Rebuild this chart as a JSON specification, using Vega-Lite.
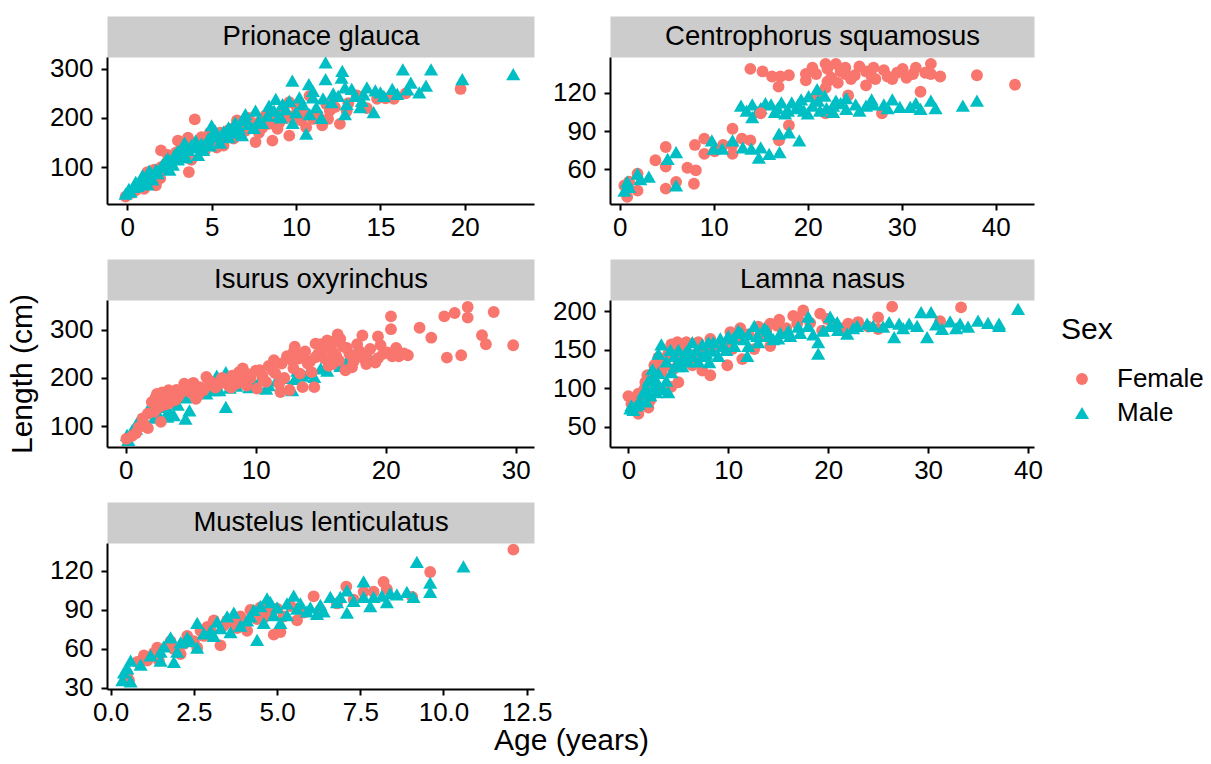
{
 "$schema": "https://vega.github.io/schema/vega-lite/v6.json",
 "padding": {"left": 7, "top": 22, "right": 5, "bottom": 5},
 "background": "white",
 "config": {
  "font": "Liberation Sans",
  "view": {"stroke": null},
  "axis": {"grid": false, "domainColor": "black", "domainWidth": 2, "tickColor": "black", "tickWidth": 2, "tickSize": 6, "labelFontSize": 26, "labelColor": "black", "labelFlush": false, "labelOverlap": false, "titleFontSize": 30, "titleFontWeight": "normal", "titleColor": "black"},
  "axisX": {"labelPadding": 4},
  "axisY": {"labelPadding": 8},
  "legend": {"titleFontSize": 30, "titleFontWeight": "normal", "titleColor": "black", "labelFontSize": 26, "labelColor": "black", "symbolSize": 170, "symbolStrokeWidth": 0, "rowPadding": 8, "titlePadding": 21, "labelOffset": 22, "symbolOffset": 8}
 },
 "datasets": {
  "prionace": [
   {"Sex":"Female","Age":4.0,"Length":197},{"Sex":"Female","Age":19.75,"Length":259},{"Sex":"Female","Age":15.8,"Length":239},{"Sex":"Female","Age":14.8,"Length":239},{"Sex":"Female","Age":12.6,"Length":188},{"Sex":"Female","Age":11.55,"Length":185},{"Sex":"Female","Age":11.9,"Length":198},{"Sex":"Female","Age":11.0,"Length":198},{"Sex":"Female","Age":10.8,"Length":245},{"Sex":"Female","Age":10.6,"Length":181},{"Sex":"Female","Age":9.6,"Length":164},{"Sex":"Female","Age":9.6,"Length":232},{"Sex":"Female","Age":8.6,"Length":154},{"Sex":"Female","Age":8.2,"Length":205},{"Sex":"Female","Age":7.6,"Length":151},{"Sex":"Female","Age":7.8,"Length":191},{"Sex":"Female","Age":7.0,"Length":174},{"Sex":"Female","Age":6.3,"Length":158},{"Sex":"Female","Age":5.7,"Length":144},{"Sex":"Female","Age":5.0,"Length":151},{"Sex":"Female","Age":4.4,"Length":161},{"Sex":"Female","Age":4.6,"Length":134},{"Sex":"Female","Age":3.65,"Length":90},{"Sex":"Female","Age":3.0,"Length":154},{"Sex":"Female","Age":2.8,"Length":121},{"Sex":"Female","Age":2.0,"Length":134},{"Sex":"Female","Age":1.95,"Length":77},{"Sex":"Female","Age":1.2,"Length":90},{"Sex":"Female","Age":1.1,"Length":70},{"Sex":"Female","Age":1.0,"Length":56},{"Sex":"Female","Age":1.7,"Length":63},{"Sex":"Female","Age":-0.1,"Length":40},{"Sex":"Female","Age":0.5,"Length":53},{"Sex":"Female","Age":2.5,"Length":110},{"Sex":"Female","Age":3.3,"Length":125},{"Sex":"Female","Age":4.2,"Length":140},{"Sex":"Female","Age":5.2,"Length":160},{"Sex":"Female","Age":6.0,"Length":175},{"Sex":"Female","Age":6.8,"Length":185},{"Sex":"Female","Age":8.8,"Length":200},{"Sex":"Female","Age":9.2,"Length":215},{"Sex":"Female","Age":10.0,"Length":225},{"Sex":"Female","Age":12.0,"Length":215},{"Sex":"Female","Age":13.1,"Length":230},{"Sex":"Female","Age":14.2,"Length":220},{"Sex":"Female","Age":7.2,"Length":200},{"Sex":"Female","Age":5.5,"Length":170},{"Sex":"Female","Age":3.8,"Length":115},{"Sex":"Female","Age":2.2,"Length":97},{"Sex":"Female","Age":1.5,"Length":82},{"Sex":"Female","Age":0.8,"Length":65},{"Sex":"Female","Age":8.0,"Length":180},{"Sex":"Female","Age":9.0,"Length":190},
   {"Sex":"Female","Age":0.3,"Length":48},{"Sex":"Female","Age":0.6,"Length":58},{"Sex":"Female","Age":1.0,"Length":75},{"Sex":"Female","Age":1.3,"Length":85},{"Sex":"Female","Age":1.6,"Length":95},{"Sex":"Female","Age":2.0,"Length":100},{"Sex":"Female","Age":2.3,"Length":108},{"Sex":"Female","Age":2.6,"Length":118},{"Sex":"Female","Age":2.9,"Length":130},{"Sex":"Female","Age":3.2,"Length":138},{"Sex":"Female","Age":3.5,"Length":132},{"Sex":"Female","Age":3.9,"Length":150},{"Sex":"Female","Age":4.3,"Length":147},{"Sex":"Female","Age":4.8,"Length":155},{"Sex":"Female","Age":5.3,"Length":140},{"Sex":"Female","Age":5.8,"Length":163},{"Sex":"Female","Age":6.2,"Length":178},{"Sex":"Female","Age":6.6,"Length":168},{"Sex":"Female","Age":7.3,"Length":183},{"Sex":"Female","Age":7.8,"Length":170},{"Sex":"Female","Age":8.4,"Length":188},{"Sex":"Female","Age":8.9,"Length":178},{"Sex":"Female","Age":9.4,"Length":200},{"Sex":"Female","Age":9.9,"Length":205},{"Sex":"Female","Age":10.4,"Length":210},{"Sex":"Female","Age":11.3,"Length":205},{"Sex":"Female","Age":12.3,"Length":222},{"Sex":"Female","Age":13.0,"Length":214},{"Sex":"Female","Age":3.6,"Length":160},{"Sex":"Female","Age":2.4,"Length":125},{"Sex":"Female","Age":4.9,"Length":170},{"Sex":"Female","Age":6.5,"Length":195},{"Sex":"Female","Age":8.5,"Length":210},{"Sex":"Female","Age":10.3,"Length":195},{"Sex":"Female","Age":11.8,"Length":228},{"Sex":"Female","Age":13.6,"Length":246},{"Sex":"Female","Age":15.3,"Length":240},{"Sex":"Female","Age":16.5,"Length":250},
   {"Sex":"Male","Age":-0.1,"Length":46},{"Sex":"Male","Age":0.1,"Length":56},{"Sex":"Male","Age":0.5,"Length":70},{"Sex":"Male","Age":0.9,"Length":83},{"Sex":"Male","Age":1.3,"Length":93},{"Sex":"Male","Age":2.0,"Length":100},{"Sex":"Male","Age":2.3,"Length":114},{"Sex":"Male","Age":3.0,"Length":116},{"Sex":"Male","Age":3.0,"Length":133},{"Sex":"Male","Age":3.46,"Length":141},{"Sex":"Male","Age":4.05,"Length":154},{"Sex":"Male","Age":4.9,"Length":144},{"Sex":"Male","Age":5.0,"Length":164},{"Sex":"Male","Age":5.0,"Length":185},{"Sex":"Male","Age":6.0,"Length":161},{"Sex":"Male","Age":6.0,"Length":181},{"Sex":"Male","Age":6.4,"Length":191},{"Sex":"Male","Age":7.0,"Length":196},{"Sex":"Male","Age":7.0,"Length":208},{"Sex":"Male","Age":7.6,"Length":215},{"Sex":"Male","Age":8.4,"Length":225},{"Sex":"Male","Age":9.1,"Length":201},{"Sex":"Male","Age":8.8,"Length":239},{"Sex":"Male","Age":9.4,"Length":218},{"Sex":"Male","Age":10.6,"Length":168},{"Sex":"Male","Age":10.0,"Length":212},{"Sex":"Male","Age":10.2,"Length":242},{"Sex":"Male","Age":11.0,"Length":242},{"Sex":"Male","Age":11.2,"Length":222},{"Sex":"Male","Age":12.1,"Length":232},{"Sex":"Male","Age":12.9,"Length":208},{"Sex":"Male","Age":13.0,"Length":228},{"Sex":"Male","Age":13.3,"Length":259},{"Sex":"Male","Age":13.9,"Length":235},{"Sex":"Male","Age":14.6,"Length":212},{"Sex":"Male","Age":14.7,"Length":256},{"Sex":"Male","Age":16.0,"Length":249},{"Sex":"Male","Age":15.7,"Length":259},{"Sex":"Male","Age":22.87,"Length":289},{"Sex":"Male","Age":19.85,"Length":279},{"Sex":"Male","Age":17.7,"Length":266},{"Sex":"Male","Age":16.8,"Length":272},{"Sex":"Male","Age":18.0,"Length":299},{"Sex":"Male","Age":16.33,"Length":299},{"Sex":"Male","Age":11.75,"Length":279},{"Sex":"Male","Age":10.76,"Length":269},{"Sex":"Male","Age":9.78,"Length":276},{"Sex":"Male","Age":12.7,"Length":282},{"Sex":"Male","Age":12.74,"Length":296},{"Sex":"Male","Age":11.75,"Length":313},{"Sex":"Male","Age":1.5,"Length":75},{"Sex":"Male","Age":2.5,"Length":95},{"Sex":"Male","Age":3.5,"Length":120},{"Sex":"Male","Age":4.5,"Length":135},{"Sex":"Male","Age":5.5,"Length":150},{"Sex":"Male","Age":6.5,"Length":170},{"Sex":"Male","Age":8.0,"Length":190},{"Sex":"Male","Age":9.0,"Length":205},{"Sex":"Male","Age":7.5,"Length":180},{"Sex":"Male","Age":11.5,"Length":200},{"Sex":"Male","Age":12.5,"Length":245},{"Sex":"Male","Age":14.0,"Length":248},{"Sex":"Male","Age":15.2,"Length":245},{"Sex":"Male","Age":2.7,"Length":105},{"Sex":"Male","Age":4.2,"Length":125},{"Sex":"Male","Age":0.6,"Length":62},{"Sex":"Male","Age":1.8,"Length":88},{"Sex":"Male","Age":3.8,"Length":145},{"Sex":"Male","Age":5.7,"Length":172},{"Sex":"Male","Age":6.8,"Length":165},
   {"Sex":"Male","Age":0.2,"Length":50},{"Sex":"Male","Age":0.4,"Length":60},{"Sex":"Male","Age":0.8,"Length":70},{"Sex":"Male","Age":1.1,"Length":80},{"Sex":"Male","Age":1.4,"Length":88},{"Sex":"Male","Age":1.7,"Length":95},{"Sex":"Male","Age":2.1,"Length":105},{"Sex":"Male","Age":2.4,"Length":118},{"Sex":"Male","Age":2.8,"Length":125},{"Sex":"Male","Age":3.2,"Length":128},{"Sex":"Male","Age":3.6,"Length":135},{"Sex":"Male","Age":4.0,"Length":140},{"Sex":"Male","Age":4.4,"Length":148},{"Sex":"Male","Age":4.8,"Length":158},{"Sex":"Male","Age":5.3,"Length":162},{"Sex":"Male","Age":5.8,"Length":168},{"Sex":"Male","Age":6.2,"Length":175},{"Sex":"Male","Age":6.6,"Length":182},{"Sex":"Male","Age":7.2,"Length":188},{"Sex":"Male","Age":7.8,"Length":195},{"Sex":"Male","Age":8.3,"Length":205},{"Sex":"Male","Age":8.7,"Length":215},{"Sex":"Male","Age":9.2,"Length":228},{"Sex":"Male","Age":9.6,"Length":235},{"Sex":"Male","Age":10.4,"Length":228},{"Sex":"Male","Age":11.0,"Length":255},{"Sex":"Male","Age":11.6,"Length":240},{"Sex":"Male","Age":12.2,"Length":250},{"Sex":"Male","Age":12.9,"Length":262},{"Sex":"Male","Age":13.5,"Length":245},{"Sex":"Male","Age":14.2,"Length":262},{"Sex":"Male","Age":15.0,"Length":252},{"Sex":"Male","Age":10.8,"Length":208},{"Sex":"Male","Age":9.8,"Length":190},{"Sex":"Male","Age":6.9,"Length":200},{"Sex":"Male","Age":5.2,"Length":175},{"Sex":"Male","Age":3.4,"Length":150},{"Sex":"Male","Age":2.6,"Length":110},{"Sex":"Male","Age":1.2,"Length":65},{"Sex":"Male","Age":16.6,"Length":258},{"Sex":"Male","Age":17.3,"Length":252},{"Sex":"Male","Age":13.8,"Length":222}
  ],
  "centrophorus": [
   {"Sex":"Female","Age":13.9,"Length":139},{"Sex":"Female","Age":15.2,"Length":137},{"Sex":"Female","Age":16.2,"Length":133},{"Sex":"Female","Age":17.1,"Length":133},{"Sex":"Female","Age":18.0,"Length":134},{"Sex":"Female","Age":16.9,"Length":125},{"Sex":"Female","Age":19.8,"Length":135},{"Sex":"Female","Age":19.8,"Length":130},{"Sex":"Female","Age":20.9,"Length":135},{"Sex":"Female","Age":21.9,"Length":143},{"Sex":"Female","Age":22.1,"Length":139},{"Sex":"Female","Age":23.0,"Length":143},{"Sex":"Female","Age":24.0,"Length":140},{"Sex":"Female","Age":24.0,"Length":135},{"Sex":"Female","Age":24.6,"Length":131},{"Sex":"Female","Age":22.1,"Length":129},{"Sex":"Female","Age":21.9,"Length":124},{"Sex":"Female","Age":26.2,"Length":137},{"Sex":"Female","Age":26.2,"Length":126},{"Sex":"Female","Age":27.2,"Length":131},{"Sex":"Female","Age":28.1,"Length":138},{"Sex":"Female","Age":29.0,"Length":131},{"Sex":"Female","Age":30.1,"Length":139},{"Sex":"Female","Age":31.2,"Length":135},{"Sex":"Female","Age":32.0,"Length":121},{"Sex":"Female","Age":33.1,"Length":143},{"Sex":"Female","Age":33.1,"Length":135},{"Sex":"Female","Age":34.1,"Length":133},{"Sex":"Female","Age":38.0,"Length":134},{"Sex":"Female","Age":42.05,"Length":126.5},{"Sex":"Female","Age":27.9,"Length":104},{"Sex":"Female","Age":21.9,"Length":104},{"Sex":"Female","Age":21.0,"Length":117},{"Sex":"Female","Age":24.3,"Length":118},{"Sex":"Female","Age":20.5,"Length":140},{"Sex":"Female","Age":22.5,"Length":132},{"Sex":"Female","Age":23.5,"Length":137},{"Sex":"Female","Age":25.0,"Length":134},{"Sex":"Female","Age":25.5,"Length":141},{"Sex":"Female","Age":27.0,"Length":140},{"Sex":"Female","Age":28.5,"Length":133},{"Sex":"Female","Age":30.5,"Length":132},{"Sex":"Female","Age":31.5,"Length":140},{"Sex":"Female","Age":32.5,"Length":136},{"Sex":"Female","Age":23.2,"Length":128},{"Sex":"Female","Age":26.8,"Length":133},{"Sex":"Female","Age":29.5,"Length":136},
   {"Sex":"Male","Age":12.9,"Length":110},{"Sex":"Male","Age":14.1,"Length":111},{"Sex":"Male","Age":14.1,"Length":101},{"Sex":"Male","Age":16.1,"Length":111},{"Sex":"Male","Age":17.2,"Length":112.6},{"Sex":"Male","Age":18.3,"Length":112.6},{"Sex":"Male","Age":19.3,"Length":115},{"Sex":"Male","Age":20.1,"Length":117.6},{"Sex":"Male","Age":21.0,"Length":123},{"Sex":"Male","Age":21.1,"Length":114},{"Sex":"Male","Age":21.3,"Length":106},{"Sex":"Male","Age":22.7,"Length":110},{"Sex":"Male","Age":24.1,"Length":116},{"Sex":"Male","Age":25.1,"Length":111},{"Sex":"Male","Age":26.2,"Length":110},{"Sex":"Male","Age":27.0,"Length":111},{"Sex":"Male","Age":28.1,"Length":111},{"Sex":"Male","Age":29.0,"Length":115},{"Sex":"Male","Age":30.9,"Length":109},{"Sex":"Male","Age":32.0,"Length":107.5},{"Sex":"Male","Age":33.1,"Length":114},{"Sex":"Male","Age":38.0,"Length":114},{"Sex":"Male","Age":16.5,"Length":105},{"Sex":"Male","Age":17.9,"Length":106},{"Sex":"Male","Age":19.6,"Length":106},{"Sex":"Male","Age":22.7,"Length":105},{"Sex":"Male","Age":24.1,"Length":107.5},{"Sex":"Male","Age":15.0,"Length":108},{"Sex":"Male","Age":18.8,"Length":108},{"Sex":"Male","Age":20.5,"Length":110},{"Sex":"Male","Age":23.5,"Length":112},{"Sex":"Male","Age":21.8,"Length":118},{"Sex":"Male","Age":15.5,"Length":112},{"Sex":"Male","Age":20.0,"Length":104},{"Sex":"Male","Age":13.5,"Length":106},{"Sex":"Male","Age":14.6,"Length":105},{"Sex":"Male","Age":16.8,"Length":108},{"Sex":"Male","Age":17.6,"Length":104},{"Sex":"Male","Age":19.0,"Length":111},{"Sex":"Male","Age":22.0,"Length":108},{"Sex":"Male","Age":23.0,"Length":114},{"Sex":"Male","Age":25.5,"Length":106},{"Sex":"Male","Age":26.8,"Length":115},{"Sex":"Male","Age":28.5,"Length":108},{"Sex":"Male","Age":29.8,"Length":109},{"Sex":"Male","Age":31.5,"Length":112},{"Sex":"Male","Age":33.6,"Length":108},{"Sex":"Male","Age":36.5,"Length":110},
   {"Sex":"Female","Age":15.0,"Length":104},{"Sex":"Female","Age":18.0,"Length":94.5},{"Sex":"Female","Age":16.95,"Length":82.6},{"Sex":"Female","Age":13.9,"Length":82.6},{"Sex":"Female","Age":12.0,"Length":91.8},{"Sex":"Female","Age":12.0,"Length":72},{"Sex":"Female","Age":12.0,"Length":79},{"Sex":"Female","Age":13.0,"Length":84},{"Sex":"Female","Age":11.0,"Length":79},{"Sex":"Female","Age":10.1,"Length":74},{"Sex":"Female","Age":9.0,"Length":84},{"Sex":"Female","Age":8.0,"Length":79},{"Sex":"Female","Age":9.0,"Length":72},{"Sex":"Female","Age":8.1,"Length":59},{"Sex":"Female","Age":7.9,"Length":48.4},{"Sex":"Female","Age":7.2,"Length":61},{"Sex":"Female","Age":6.0,"Length":49.8},{"Sex":"Female","Age":4.9,"Length":77.4},{"Sex":"Female","Age":4.9,"Length":62},{"Sex":"Female","Age":4.9,"Length":44.5},{"Sex":"Female","Age":3.8,"Length":66.9},{"Sex":"Female","Age":1.9,"Length":56.3},{"Sex":"Female","Age":1.9,"Length":43},{"Sex":"Female","Age":1.0,"Length":50},{"Sex":"Female","Age":0.8,"Length":38},{"Sex":"Female","Age":0.5,"Length":47},
   {"Sex":"Male","Age":16.95,"Length":88},{"Sex":"Male","Age":18.0,"Length":89},{"Sex":"Male","Age":19.1,"Length":82.6},{"Sex":"Male","Age":17.0,"Length":73.4},{"Sex":"Male","Age":15.9,"Length":72},{"Sex":"Male","Age":15.0,"Length":77},{"Sex":"Male","Age":14.8,"Length":69},{"Sex":"Male","Age":14.0,"Length":76},{"Sex":"Male","Age":13.1,"Length":77},{"Sex":"Male","Age":12.0,"Length":82.6},{"Sex":"Male","Age":10.9,"Length":76},{"Sex":"Male","Age":9.8,"Length":82.6},{"Sex":"Male","Age":10.0,"Length":76},{"Sex":"Male","Age":6.0,"Length":73.4},{"Sex":"Male","Age":5.1,"Length":68},{"Sex":"Male","Age":6.0,"Length":47},{"Sex":"Male","Age":3.1,"Length":54},{"Sex":"Male","Age":1.9,"Length":56.3},{"Sex":"Male","Age":1.0,"Length":46},{"Sex":"Male","Age":0.5,"Length":43},{"Sex":"Male","Age":2.2,"Length":52},{"Sex":"Male","Age":0.8,"Length":50}
  ],
  "isurus": [
   {"Sex":"Male","Age":7.7,"Length":212},{"Sex":"Male","Age":7.7,"Length":140},{"Sex":"Male","Age":8.5,"Length":184},{"Sex":"Male","Age":5.4,"Length":178},{"Sex":"Male","Age":4.9,"Length":133},{"Sex":"Male","Age":4.6,"Length":116},{"Sex":"Male","Age":3.7,"Length":123},{"Sex":"Male","Age":3.3,"Length":133},{"Sex":"Male","Age":1.9,"Length":143},{"Sex":"Male","Age":1.0,"Length":113},{"Sex":"Male","Age":0.5,"Length":92},{"Sex":"Male","Age":0.1,"Length":82},{"Sex":"Male","Age":0.2,"Length":72},{"Sex":"Male","Age":10.8,"Length":178},{"Sex":"Male","Age":12.8,"Length":175},{"Sex":"Male","Age":14.5,"Length":202},{"Sex":"Male","Age":17.7,"Length":254},{"Sex":"Male","Age":18.9,"Length":237},{"Sex":"Male","Age":6.2,"Length":168},{"Sex":"Male","Age":9.5,"Length":181},{"Sex":"Male","Age":11.6,"Length":195},{"Sex":"Male","Age":13.6,"Length":205},{"Sex":"Male","Age":2.5,"Length":125},{"Sex":"Male","Age":6.8,"Length":175},{"Sex":"Male","Age":9.0,"Length":195},{"Sex":"Male","Age":15.5,"Length":215},{"Sex":"Male","Age":16.5,"Length":225},
   {"Sex":"Male","Age":0.8,"Length":95},{"Sex":"Male","Age":1.4,"Length":110},{"Sex":"Male","Age":2.2,"Length":118},{"Sex":"Male","Age":2.8,"Length":140},{"Sex":"Male","Age":3.4,"Length":150},{"Sex":"Male","Age":4.0,"Length":145},{"Sex":"Male","Age":4.6,"Length":160},{"Sex":"Male","Age":5.8,"Length":170},{"Sex":"Male","Age":6.4,"Length":182},{"Sex":"Male","Age":7.2,"Length":175},{"Sex":"Male","Age":8.0,"Length":180},{"Sex":"Male","Age":8.8,"Length":192},{"Sex":"Male","Age":9.9,"Length":188},{"Sex":"Male","Age":10.4,"Length":200},{"Sex":"Male","Age":11.0,"Length":185},{"Sex":"Male","Age":12.2,"Length":200},{"Sex":"Male","Age":13.0,"Length":198},{"Sex":"Male","Age":14.0,"Length":210},{"Sex":"Male","Age":15.0,"Length":220},{"Sex":"Male","Age":16.0,"Length":230},{"Sex":"Male","Age":17.0,"Length":235},{"Sex":"Male","Age":13.2,"Length":215},{"Sex":"Male","Age":7.0,"Length":205},{"Sex":"Male","Age":3.2,"Length":120},
   {"Sex":"Female","Age":26.3,"Length":347},{"Sex":"Female","Age":28.3,"Length":336.7},{"Sex":"Female","Age":25.3,"Length":334.6},{"Sex":"Female","Age":24.5,"Length":327.7},{"Sex":"Female","Age":26.3,"Length":325},{"Sex":"Female","Age":20.4,"Length":327.7},{"Sex":"Female","Age":22.6,"Length":304},{"Sex":"Female","Age":23.5,"Length":283.4},{"Sex":"Female","Age":27.4,"Length":288.4},{"Sex":"Female","Age":27.7,"Length":269.8},{"Sex":"Female","Age":29.8,"Length":267.7},{"Sex":"Female","Age":24.7,"Length":242},{"Sex":"Female","Age":25.8,"Length":247},{"Sex":"Female","Age":20.4,"Length":301},{"Sex":"Female","Age":19.4,"Length":286},{"Sex":"Female","Age":18.2,"Length":288},{"Sex":"Female","Age":21.7,"Length":247},{"Sex":"Female","Age":21.0,"Length":245},{"Sex":"Female","Age":20.1,"Length":253},{"Sex":"Female","Age":19.4,"Length":241},{"Sex":"Female","Age":18.5,"Length":247},{"Sex":"Female","Age":16.5,"Length":281},{"Sex":"Female","Age":16.0,"Length":275},{"Sex":"Female","Age":15.5,"Length":278},{"Sex":"Female","Age":14.6,"Length":271},{"Sex":"Female","Age":16.0,"Length":251},{"Sex":"Female","Age":16.4,"Length":236},{"Sex":"Female","Age":16.9,"Length":216},{"Sex":"Female","Age":15.9,"Length":229},{"Sex":"Female","Age":14.6,"Length":243},{"Sex":"Female","Age":13.6,"Length":249},{"Sex":"Female","Age":12.9,"Length":253},{"Sex":"Female","Age":12.8,"Length":236},{"Sex":"Female","Age":11.3,"Length":216},{"Sex":"Female","Age":10.3,"Length":216},{"Sex":"Female","Age":9.3,"Length":209},{"Sex":"Female","Age":8.7,"Length":212},{"Sex":"Female","Age":8.5,"Length":188},{"Sex":"Female","Age":9.3,"Length":184},{"Sex":"Female","Age":11.9,"Length":171},{"Sex":"Female","Age":12.6,"Length":175},{"Sex":"Female","Age":13.6,"Length":181},{"Sex":"Female","Age":14.5,"Length":181},{"Sex":"Female","Age":11.8,"Length":188},{"Sex":"Female","Age":7.2,"Length":188},{"Sex":"Female","Age":6.6,"Length":185},{"Sex":"Female","Age":5.7,"Length":181},{"Sex":"Female","Age":6.2,"Length":202},{"Sex":"Female","Age":4.8,"Length":181},{"Sex":"Female","Age":4.5,"Length":188},{"Sex":"Female","Age":4.2,"Length":168},{"Sex":"Female","Age":3.3,"Length":174.5},{"Sex":"Female","Age":3.3,"Length":147},{"Sex":"Female","Age":2.6,"Length":164},{"Sex":"Female","Age":2.4,"Length":167},{"Sex":"Female","Age":2.6,"Length":140},{"Sex":"Female","Age":2.7,"Length":109},{"Sex":"Female","Age":1.7,"Length":126},{"Sex":"Female","Age":1.3,"Length":116},{"Sex":"Female","Age":1.7,"Length":96},{"Sex":"Female","Age":0.8,"Length":86},{"Sex":"Female","Age":0.05,"Length":74},{"Sex":"Female","Age":3.8,"Length":154},{"Sex":"Female","Age":5.4,"Length":157},{"Sex":"Female","Age":10.1,"Length":178},{"Sex":"Female","Age":10.8,"Length":192},{"Sex":"Female","Age":13.4,"Length":209},{"Sex":"Female","Age":18.5,"Length":229},{"Sex":"Female","Age":19.2,"Length":232},{"Sex":"Female","Age":17.6,"Length":244},{"Sex":"Female","Age":15.2,"Length":262},{"Sex":"Female","Age":17.0,"Length":262},{"Sex":"Female","Age":14.0,"Length":230},{"Sex":"Female","Age":17.8,"Length":270},{"Sex":"Female","Age":7.8,"Length":196},{"Sex":"Female","Age":3.0,"Length":160},
   {"Sex":"Female","Age":2.0,"Length":150},{"Sex":"Female","Age":2.3,"Length":160},{"Sex":"Female","Age":2.8,"Length":170},{"Sex":"Female","Age":3.0,"Length":145},{"Sex":"Female","Age":3.5,"Length":165},{"Sex":"Female","Age":3.9,"Length":175},{"Sex":"Female","Age":4.0,"Length":160},{"Sex":"Female","Age":4.4,"Length":175},{"Sex":"Female","Age":5.0,"Length":170},{"Sex":"Female","Age":5.2,"Length":190},{"Sex":"Female","Age":5.6,"Length":165},{"Sex":"Female","Age":6.0,"Length":175},{"Sex":"Female","Age":6.4,"Length":195},{"Sex":"Female","Age":6.9,"Length":180},{"Sex":"Female","Age":7.4,"Length":200},{"Sex":"Female","Age":7.9,"Length":185},{"Sex":"Female","Age":8.2,"Length":205},{"Sex":"Female","Age":8.8,"Length":195},{"Sex":"Female","Age":9.0,"Length":220},{"Sex":"Female","Age":9.6,"Length":200},{"Sex":"Female","Age":10.0,"Length":215},{"Sex":"Female","Age":10.5,"Length":205},{"Sex":"Female","Age":11.0,"Length":225},{"Sex":"Female","Age":11.5,"Length":210},{"Sex":"Female","Age":12.0,"Length":230},{"Sex":"Female","Age":12.4,"Length":245},{"Sex":"Female","Age":12.9,"Length":220},{"Sex":"Female","Age":13.3,"Length":240},{"Sex":"Female","Age":13.8,"Length":255},{"Sex":"Female","Age":14.2,"Length":235},{"Sex":"Female","Age":14.8,"Length":250},{"Sex":"Female","Age":15.3,"Length":240},{"Sex":"Female","Age":15.8,"Length":260},{"Sex":"Female","Age":16.2,"Length":245},{"Sex":"Female","Age":16.7,"Length":265},{"Sex":"Female","Age":17.2,"Length":250},{"Sex":"Female","Age":17.5,"Length":233},{"Sex":"Female","Age":18.0,"Length":255},{"Sex":"Female","Age":18.8,"Length":260},{"Sex":"Female","Age":19.8,"Length":250},{"Sex":"Female","Age":20.5,"Length":245},{"Sex":"Female","Age":21.4,"Length":251},{"Sex":"Female","Age":20.8,"Length":262},{"Sex":"Female","Age":19.6,"Length":268},{"Sex":"Female","Age":18.3,"Length":240},{"Sex":"Female","Age":17.4,"Length":222},{"Sex":"Female","Age":15.6,"Length":225},{"Sex":"Female","Age":14.3,"Length":212},{"Sex":"Female","Age":12.2,"Length":200},{"Sex":"Female","Age":10.6,"Length":195},{"Sex":"Female","Age":8.1,"Length":180},{"Sex":"Female","Age":6.7,"Length":190},{"Sex":"Female","Age":1.4,"Length":105},{"Sex":"Female","Age":1.0,"Length":98},{"Sex":"Female","Age":0.5,"Length":80},{"Sex":"Female","Age":2.2,"Length":130},{"Sex":"Female","Age":11.4,"Length":237},{"Sex":"Female","Age":13.0,"Length":265},{"Sex":"Female","Age":15.0,"Length":270},{"Sex":"Female","Age":16.3,"Length":290}
  ],
  "lamna": [
   {"Sex":"Female","Age":26.4,"Length":206},{"Sex":"Female","Age":33.3,"Length":205},{"Sex":"Female","Age":31.2,"Length":187},{"Sex":"Female","Age":25.0,"Length":192},{"Sex":"Female","Age":25.0,"Length":177},{"Sex":"Female","Age":23.0,"Length":186},{"Sex":"Female","Age":22.0,"Length":184},{"Sex":"Female","Age":19.2,"Length":197},{"Sex":"Female","Age":19.9,"Length":190},{"Sex":"Female","Age":19.4,"Length":175},{"Sex":"Female","Age":17.5,"Length":201},{"Sex":"Female","Age":16.5,"Length":194},{"Sex":"Female","Age":16.9,"Length":184},{"Sex":"Female","Age":15.1,"Length":189},{"Sex":"Female","Age":14.9,"Length":181},{"Sex":"Female","Age":14.2,"Length":184},{"Sex":"Female","Age":13.2,"Length":170},{"Sex":"Female","Age":14.2,"Length":155},{"Sex":"Female","Age":12.6,"Length":151},{"Sex":"Female","Age":11.2,"Length":178},{"Sex":"Female","Age":10.2,"Length":173},{"Sex":"Female","Age":10.4,"Length":151},{"Sex":"Female","Age":11.4,"Length":138},{"Sex":"Female","Age":9.9,"Length":130},{"Sex":"Female","Age":8.2,"Length":164},{"Sex":"Female","Age":8.2,"Length":117},{"Sex":"Female","Age":7.4,"Length":123},{"Sex":"Female","Age":6.4,"Length":130},{"Sex":"Female","Age":4.9,"Length":160},{"Sex":"Female","Age":4.3,"Length":157},{"Sex":"Female","Age":3.9,"Length":140},{"Sex":"Female","Age":5.0,"Length":136},{"Sex":"Female","Age":4.5,"Length":125},{"Sex":"Female","Age":5.0,"Length":108},{"Sex":"Female","Age":4.3,"Length":102},{"Sex":"Female","Age":3.3,"Length":121},{"Sex":"Female","Age":3.4,"Length":138},{"Sex":"Female","Age":3.0,"Length":140},{"Sex":"Female","Age":2.6,"Length":130},{"Sex":"Female","Age":2.2,"Length":117},{"Sex":"Female","Age":1.9,"Length":117},{"Sex":"Female","Age":1.6,"Length":99},{"Sex":"Female","Age":1.7,"Length":108},{"Sex":"Female","Age":1.0,"Length":93},{"Sex":"Female","Age":0.7,"Length":87},{"Sex":"Female","Age":1.0,"Length":67},{"Sex":"Female","Age":2.2,"Length":85},{"Sex":"Female","Age":1.6,"Length":83},{"Sex":"Female","Age":1.0,"Length":83},{"Sex":"Female","Age":0.0,"Length":90},
   {"Sex":"Female","Age":0.3,"Length":80},{"Sex":"Female","Age":0.5,"Length":85},{"Sex":"Female","Age":1.3,"Length":90},{"Sex":"Female","Age":1.8,"Length":95},{"Sex":"Female","Age":2.5,"Length":110},{"Sex":"Female","Age":2.8,"Length":120},{"Sex":"Female","Age":3.6,"Length":128},{"Sex":"Female","Age":4.0,"Length":145},{"Sex":"Female","Age":4.7,"Length":150},{"Sex":"Female","Age":5.5,"Length":150},{"Sex":"Female","Age":6.0,"Length":145},{"Sex":"Female","Age":6.8,"Length":140},{"Sex":"Female","Age":7.6,"Length":150},{"Sex":"Female","Age":8.8,"Length":155},{"Sex":"Female","Age":9.5,"Length":158},{"Sex":"Female","Age":10.8,"Length":165},{"Sex":"Female","Age":12.0,"Length":170},{"Sex":"Female","Age":13.0,"Length":180},{"Sex":"Female","Age":13.8,"Length":175},{"Sex":"Female","Age":15.8,"Length":178},{"Sex":"Female","Age":17.0,"Length":190},{"Sex":"Female","Age":18.2,"Length":185},{"Sex":"Female","Age":20.5,"Length":183},{"Sex":"Female","Age":21.5,"Length":178},{"Sex":"Female","Age":24.0,"Length":180},{"Sex":"Female","Age":3.1,"Length":100},{"Sex":"Female","Age":2.0,"Length":75},{"Sex":"Female","Age":5.8,"Length":160},{"Sex":"Female","Age":7.0,"Length":160},
   {"Sex":"Male","Age":39.0,"Length":203},{"Sex":"Male","Age":29.3,"Length":199},{"Sex":"Male","Age":30.3,"Length":199},{"Sex":"Male","Age":35.0,"Length":188},{"Sex":"Male","Age":36.0,"Length":185},{"Sex":"Male","Age":37.1,"Length":184},{"Sex":"Male","Age":37.1,"Length":181},{"Sex":"Male","Age":33.2,"Length":184},{"Sex":"Male","Age":32.2,"Length":187},{"Sex":"Male","Age":31.4,"Length":177},{"Sex":"Male","Age":29.9,"Length":166.6},{"Sex":"Male","Age":28.9,"Length":181},{"Sex":"Male","Age":28.1,"Length":184},{"Sex":"Male","Age":27.1,"Length":184},{"Sex":"Male","Age":26.6,"Length":166.6},{"Sex":"Male","Age":26.1,"Length":186},{"Sex":"Male","Age":23.9,"Length":184},{"Sex":"Male","Age":22.9,"Length":181},{"Sex":"Male","Age":21.9,"Length":171},{"Sex":"Male","Age":20.9,"Length":186},{"Sex":"Male","Age":20.2,"Length":181},{"Sex":"Male","Age":20.2,"Length":193},{"Sex":"Male","Age":19.0,"Length":145},{"Sex":"Male","Age":19.0,"Length":160},{"Sex":"Male","Age":18.0,"Length":193},{"Sex":"Male","Age":18.0,"Length":181},{"Sex":"Male","Age":17.2,"Length":172},{"Sex":"Male","Age":16.2,"Length":168},{"Sex":"Male","Age":15.2,"Length":172},{"Sex":"Male","Age":14.5,"Length":164},{"Sex":"Male","Age":13.9,"Length":175},{"Sex":"Male","Age":13.6,"Length":178},{"Sex":"Male","Age":12.9,"Length":168},{"Sex":"Male","Age":12.6,"Length":181},{"Sex":"Male","Age":11.6,"Length":164},{"Sex":"Male","Age":11.3,"Length":172},{"Sex":"Male","Age":10.6,"Length":155},{"Sex":"Male","Age":10.0,"Length":168},{"Sex":"Male","Age":9.4,"Length":155},{"Sex":"Male","Age":9.0,"Length":142},{"Sex":"Male","Age":8.4,"Length":149},{"Sex":"Male","Age":8.1,"Length":134},{"Sex":"Male","Age":7.4,"Length":157},{"Sex":"Male","Age":7.4,"Length":142},{"Sex":"Male","Age":6.4,"Length":160},{"Sex":"Male","Age":6.4,"Length":142},{"Sex":"Male","Age":5.7,"Length":146},{"Sex":"Male","Age":5.4,"Length":129},{"Sex":"Male","Age":4.9,"Length":134},{"Sex":"Male","Age":4.3,"Length":121},{"Sex":"Male","Age":4.6,"Length":142},{"Sex":"Male","Age":3.3,"Length":157},{"Sex":"Male","Age":3.5,"Length":99},{"Sex":"Male","Age":2.9,"Length":108},{"Sex":"Male","Age":2.4,"Length":125},{"Sex":"Male","Age":2.6,"Length":103},{"Sex":"Male","Age":2.2,"Length":91},{"Sex":"Male","Age":1.8,"Length":83},{"Sex":"Male","Age":1.0,"Length":80},{"Sex":"Male","Age":0.3,"Length":78},{"Sex":"Male","Age":0.2,"Length":74},{"Sex":"Male","Age":4.0,"Length":95},{"Sex":"Male","Age":5.0,"Length":129},{"Sex":"Male","Age":11.9,"Length":142},{"Sex":"Male","Age":6.0,"Length":150},{"Sex":"Male","Age":8.0,"Length":160},{"Sex":"Male","Age":12.0,"Length":155},
   {"Sex":"Male","Age":0.5,"Length":72},{"Sex":"Male","Age":0.8,"Length":78},{"Sex":"Male","Age":1.2,"Length":85},{"Sex":"Male","Age":1.5,"Length":95},{"Sex":"Male","Age":2.0,"Length":110},{"Sex":"Male","Age":2.5,"Length":115},{"Sex":"Male","Age":3.0,"Length":120},{"Sex":"Male","Age":3.0,"Length":145},{"Sex":"Male","Age":3.8,"Length":135},{"Sex":"Male","Age":4.2,"Length":150},{"Sex":"Male","Age":5.0,"Length":150},{"Sex":"Male","Age":5.5,"Length":140},{"Sex":"Male","Age":6.0,"Length":135},{"Sex":"Male","Age":6.8,"Length":150},{"Sex":"Male","Age":7.0,"Length":135},{"Sex":"Male","Age":7.8,"Length":145},{"Sex":"Male","Age":8.5,"Length":160},{"Sex":"Male","Age":9.2,"Length":165},{"Sex":"Male","Age":9.8,"Length":150},{"Sex":"Male","Age":10.5,"Length":165},{"Sex":"Male","Age":11.0,"Length":175},{"Sex":"Male","Age":12.0,"Length":170},{"Sex":"Male","Age":13.0,"Length":160},{"Sex":"Male","Age":14.0,"Length":168},{"Sex":"Male","Age":15.0,"Length":165},{"Sex":"Male","Age":16.0,"Length":175},{"Sex":"Male","Age":17.0,"Length":180},{"Sex":"Male","Age":18.5,"Length":170},{"Sex":"Male","Age":19.5,"Length":175},{"Sex":"Male","Age":21.0,"Length":176},{"Sex":"Male","Age":22.5,"Length":178},{"Sex":"Male","Age":24.5,"Length":181},{"Sex":"Male","Age":25.5,"Length":180},{"Sex":"Male","Age":27.5,"Length":178},{"Sex":"Male","Age":30.8,"Length":183},{"Sex":"Male","Age":32.8,"Length":178},{"Sex":"Male","Age":34.0,"Length":180},{"Sex":"Male","Age":3.8,"Length":110},{"Sex":"Male","Age":2.8,"Length":95},{"Sex":"Male","Age":1.8,"Length":100}
  ],
  "mustelus": [
   {"Sex":"Female","Age":12.1,"Length":136.4},{"Sex":"Female","Age":9.6,"Length":119.2},{"Sex":"Female","Age":9.06,"Length":100},{"Sex":"Female","Age":8.2,"Length":111.5},{"Sex":"Female","Age":8.3,"Length":106},{"Sex":"Female","Age":7.6,"Length":103.8},{"Sex":"Female","Age":7.08,"Length":108},{"Sex":"Female","Age":6.1,"Length":100.5},{"Sex":"Female","Age":5.4,"Length":93},{"Sex":"Female","Age":5.1,"Length":73},{"Sex":"Female","Age":4.9,"Length":71},{"Sex":"Female","Age":4.7,"Length":94},{"Sex":"Female","Age":4.6,"Length":84},{"Sex":"Female","Age":4.2,"Length":90},{"Sex":"Female","Age":4.1,"Length":74},{"Sex":"Female","Age":3.9,"Length":85},{"Sex":"Female","Age":3.7,"Length":80},{"Sex":"Female","Age":3.5,"Length":82},{"Sex":"Female","Age":3.3,"Length":62.8},{"Sex":"Female","Age":2.9,"Length":77},{"Sex":"Female","Age":2.8,"Length":70},{"Sex":"Female","Age":2.6,"Length":61},{"Sex":"Female","Age":2.3,"Length":70},{"Sex":"Female","Age":2.1,"Length":56},{"Sex":"Female","Age":1.8,"Length":66},{"Sex":"Female","Age":1.7,"Length":62},{"Sex":"Female","Age":1.4,"Length":61},{"Sex":"Female","Age":1.45,"Length":51},{"Sex":"Female","Age":1.1,"Length":51},{"Sex":"Female","Age":0.8,"Length":50},{"Sex":"Female","Age":0.5,"Length":41},{"Sex":"Female","Age":0.55,"Length":36},{"Sex":"Female","Age":5.6,"Length":82},{"Sex":"Female","Age":5.0,"Length":91},{"Sex":"Female","Age":5.6,"Length":91},
   {"Sex":"Female","Age":1.0,"Length":55},{"Sex":"Female","Age":1.3,"Length":57},{"Sex":"Female","Age":1.9,"Length":60},{"Sex":"Female","Age":2.2,"Length":64},{"Sex":"Female","Age":2.5,"Length":66},{"Sex":"Female","Age":2.7,"Length":74},{"Sex":"Female","Age":3.0,"Length":74},{"Sex":"Female","Age":3.4,"Length":78},{"Sex":"Female","Age":3.8,"Length":76},{"Sex":"Female","Age":4.0,"Length":80},{"Sex":"Female","Age":4.4,"Length":83},{"Sex":"Female","Age":4.8,"Length":88},{"Sex":"Female","Age":5.2,"Length":85},{"Sex":"Female","Age":5.8,"Length":88},{"Sex":"Female","Age":6.3,"Length":90},{"Sex":"Female","Age":6.8,"Length":95},{"Sex":"Female","Age":7.3,"Length":98},{"Sex":"Female","Age":7.9,"Length":104},{"Sex":"Female","Age":3.1,"Length":82},{"Sex":"Female","Age":4.5,"Length":92},
   {"Sex":"Male","Age":10.6,"Length":123.6},{"Sex":"Male","Age":9.2,"Length":127},{"Sex":"Male","Age":9.6,"Length":111},{"Sex":"Male","Age":9.6,"Length":104},{"Sex":"Male","Age":9.1,"Length":100},{"Sex":"Male","Age":8.6,"Length":102},{"Sex":"Male","Age":8.3,"Length":96},{"Sex":"Male","Age":8.15,"Length":101},{"Sex":"Male","Age":7.8,"Length":93},{"Sex":"Male","Age":7.6,"Length":112},{"Sex":"Male","Age":7.6,"Length":100},{"Sex":"Male","Age":7.1,"Length":105},{"Sex":"Male","Age":7.1,"Length":88},{"Sex":"Male","Age":6.8,"Length":96},{"Sex":"Male","Age":6.6,"Length":100},{"Sex":"Male","Age":6.3,"Length":94},{"Sex":"Male","Age":6.2,"Length":87},{"Sex":"Male","Age":5.9,"Length":89},{"Sex":"Male","Age":5.6,"Length":91},{"Sex":"Male","Age":5.5,"Length":101},{"Sex":"Male","Age":5.3,"Length":95},{"Sex":"Male","Age":5.3,"Length":86},{"Sex":"Male","Age":4.8,"Length":96},{"Sex":"Male","Age":4.9,"Length":86},{"Sex":"Male","Age":4.6,"Length":80},{"Sex":"Male","Age":4.3,"Length":90},{"Sex":"Male","Age":4.2,"Length":85},{"Sex":"Male","Age":3.7,"Length":88},{"Sex":"Male","Age":3.6,"Length":73},{"Sex":"Male","Age":3.2,"Length":81},{"Sex":"Male","Age":3.1,"Length":70},{"Sex":"Male","Age":2.6,"Length":80},{"Sex":"Male","Age":2.6,"Length":61},{"Sex":"Male","Age":2.3,"Length":69},{"Sex":"Male","Age":2.1,"Length":65},{"Sex":"Male","Age":1.8,"Length":69},{"Sex":"Male","Age":1.5,"Length":58},{"Sex":"Male","Age":1.5,"Length":51},{"Sex":"Male","Age":1.9,"Length":50},{"Sex":"Male","Age":0.6,"Length":51},{"Sex":"Male","Age":0.4,"Length":42},{"Sex":"Male","Age":0.6,"Length":35},{"Sex":"Male","Age":0.35,"Length":36},{"Sex":"Male","Age":4.4,"Length":67},
   {"Sex":"Male","Age":0.5,"Length":45},{"Sex":"Male","Age":0.9,"Length":48},{"Sex":"Male","Age":1.2,"Length":55},{"Sex":"Male","Age":1.6,"Length":62},{"Sex":"Male","Age":2.0,"Length":58},{"Sex":"Male","Age":2.4,"Length":66},{"Sex":"Male","Age":2.8,"Length":72},{"Sex":"Male","Age":3.3,"Length":76},{"Sex":"Male","Age":3.5,"Length":85},{"Sex":"Male","Age":3.9,"Length":78},{"Sex":"Male","Age":4.1,"Length":82},{"Sex":"Male","Age":4.5,"Length":93},{"Sex":"Male","Age":5.0,"Length":92},{"Sex":"Male","Age":5.1,"Length":80},{"Sex":"Male","Age":5.7,"Length":95},{"Sex":"Male","Age":6.0,"Length":92},{"Sex":"Male","Age":6.4,"Length":89},{"Sex":"Male","Age":6.9,"Length":100},{"Sex":"Male","Age":7.3,"Length":97},{"Sex":"Male","Age":7.9,"Length":100},{"Sex":"Male","Age":8.4,"Length":103},{"Sex":"Male","Age":8.9,"Length":104},{"Sex":"Male","Age":4.7,"Length":99},{"Sex":"Male","Age":3.0,"Length":74}
  ]
 },
 "concat": [
  {
   "width": 427, "height": 147,
   "data": {"name": "prionace"},
   "layer": [
    {"mark": {"type": "point", "filled": true, "opacity": 1},
     "encoding": {
      "x": {"field": "Age", "type": "quantitative", "scale": {"domain": [-1.2, 24.1], "nice": false, "zero": false}, "axis": {"values": [0, 5, 10, 15, 20], "title": null}},
      "y": {"field": "Length", "type": "quantitative", "scale": {"domain": [25, 324], "nice": false, "zero": false}, "axis": {"values": [100, 200, 300], "title": null}},
      "color": {"field": "Sex", "type": "nominal", "scale": {"domain": ["Female", "Male"], "range": ["#F8766D", "#00BFC4"]}, "legend": {"orient": "none", "legendX": 954, "legendY": 258}},
      "shape": {"field": "Sex", "type": "nominal", "scale": {"domain": ["Female", "Male"], "range": ["circle", "triangle-up"]}, "legend": {"orient": "none", "legendX": 954, "legendY": 258}},
      "size": {"field": "Sex", "type": "ordinal", "scale": {"domain": ["Female", "Male"], "range": [140, 200]}, "legend": null}
     }},
    {"mark": {"type": "point", "opacity": 0},
     "encoding": {"x": {"field": "Age", "type": "quantitative", "axis": {"orient": "top", "title": "Prionace glauca", "ticks": false, "labels": false, "domainColor": "#CCCCCC", "domainWidth": 41, "offset": 20.5, "titleFontSize": 27.5, "titleY": 0, "titleBaseline": "middle"}}}}
   ],
   "resolve": {"axis": {"x": "independent"}}
  },
  {
   "width": 424, "height": 147,
   "data": {"name": "centrophorus"},
   "layer": [
    {"mark": {"type": "point", "filled": true, "opacity": 1},
     "encoding": {
      "x": {"field": "Age", "type": "quantitative", "scale": {"domain": [-1.03, 44.07], "nice": false, "zero": false}, "axis": {"values": [0, 10, 20, 30, 40], "title": null}},
      "y": {"field": "Length", "type": "quantitative", "scale": {"domain": [32.4, 148.4], "nice": false, "zero": false}, "axis": {"values": [60, 90, 120], "title": null}},
      "color": {"field": "Sex", "type": "nominal", "scale": {"domain": ["Female", "Male"], "range": ["#F8766D", "#00BFC4"]}, "legend": {"orient": "none", "legendX": 954, "legendY": 258}},
      "shape": {"field": "Sex", "type": "nominal", "scale": {"domain": ["Female", "Male"], "range": ["circle", "triangle-up"]}, "legend": {"orient": "none", "legendX": 954, "legendY": 258}},
      "size": {"field": "Sex", "type": "ordinal", "scale": {"domain": ["Female", "Male"], "range": [140, 200]}, "legend": null}
     }},
    {"mark": {"type": "point", "opacity": 0},
     "encoding": {"x": {"field": "Age", "type": "quantitative", "axis": {"orient": "top", "title": "Centrophorus squamosus", "ticks": false, "labels": false, "domainColor": "#CCCCCC", "domainWidth": 41, "offset": 20.5, "titleFontSize": 27.5, "titleY": 0, "titleBaseline": "middle"}}}}
   ],
   "resolve": {"axis": {"x": "independent"}}
  },
  {
   "width": 427, "height": 147,
   "data": {"name": "isurus"},
   "layer": [
    {"mark": {"type": "point", "filled": true, "opacity": 1},
     "encoding": {
      "x": {"field": "Age", "type": "quantitative", "scale": {"domain": [-1.44, 31.4], "nice": false, "zero": false}, "axis": {"values": [0, 10, 20, 30], "title": null}},
      "y": {"field": "Length", "type": "quantitative", "scale": {"domain": [57, 361.5], "nice": false, "zero": false}, "axis": {"values": [100, 200, 300], "title": "Length (cm)", "titleX": -76, "titleBaseline": "alphabetic"}},
      "color": {"field": "Sex", "type": "nominal", "scale": {"domain": ["Female", "Male"], "range": ["#F8766D", "#00BFC4"]}, "legend": {"orient": "none", "legendX": 954, "legendY": 258}},
      "shape": {"field": "Sex", "type": "nominal", "scale": {"domain": ["Female", "Male"], "range": ["circle", "triangle-up"]}, "legend": {"orient": "none", "legendX": 954, "legendY": 258}},
      "size": {"field": "Sex", "type": "ordinal", "scale": {"domain": ["Female", "Male"], "range": [140, 200]}, "legend": null}
     }},
    {"mark": {"type": "point", "opacity": 0},
     "encoding": {"x": {"field": "Age", "type": "quantitative", "axis": {"orient": "top", "title": "Isurus oxyrinchus", "ticks": false, "labels": false, "domainColor": "#CCCCCC", "domainWidth": 41, "offset": 20.5, "titleFontSize": 27.5, "titleY": 0, "titleBaseline": "middle"}}}}
   ],
   "resolve": {"axis": {"x": "independent"}}
  },
  {
   "width": 424, "height": 147,
   "data": {"name": "lamna"},
   "layer": [
    {"mark": {"type": "point", "filled": true, "opacity": 1},
     "encoding": {
      "x": {"field": "Age", "type": "quantitative", "scale": {"domain": [-1.84, 40.6], "nice": false, "zero": false}, "axis": {"values": [0, 10, 20, 30, 40], "title": null}},
      "y": {"field": "Length", "type": "quantitative", "scale": {"domain": [24, 214.6], "nice": false, "zero": false}, "axis": {"values": [50, 100, 150, 200], "title": null}},
      "color": {"field": "Sex", "type": "nominal", "scale": {"domain": ["Female", "Male"], "range": ["#F8766D", "#00BFC4"]}, "legend": {"orient": "none", "legendX": 954, "legendY": 258}},
      "shape": {"field": "Sex", "type": "nominal", "scale": {"domain": ["Female", "Male"], "range": ["circle", "triangle-up"]}, "legend": {"orient": "none", "legendX": 954, "legendY": 258}},
      "size": {"field": "Sex", "type": "ordinal", "scale": {"domain": ["Female", "Male"], "range": [140, 200]}, "legend": null}
     }},
    {"mark": {"type": "point", "opacity": 0},
     "encoding": {"x": {"field": "Age", "type": "quantitative", "axis": {"orient": "top", "title": "Lamna nasus", "ticks": false, "labels": false, "domainColor": "#CCCCCC", "domainWidth": 41, "offset": 20.5, "titleFontSize": 27.5, "titleY": 0, "titleBaseline": "middle"}}}}
   ],
   "resolve": {"axis": {"x": "independent"}}
  },
  {
   "width": 427, "height": 146,
   "data": {"name": "mustelus"},
   "layer": [
    {"mark": {"type": "point", "filled": true, "opacity": 1},
     "encoding": {
      "x": {"field": "Age", "type": "quantitative", "scale": {"domain": [-0.11, 12.72], "nice": false, "zero": false}, "axis": {"values": [0, 2.5, 5, 7.5, 10, 12.5], "format": ".1f", "title": "Age (years)", "titleX": 464, "titleY": 60, "titleBaseline": "alphabetic"}},
      "y": {"field": "Length", "type": "quantitative", "scale": {"domain": [29.2, 141.5], "nice": false, "zero": false}, "axis": {"values": [30, 60, 90, 120], "title": null}},
      "color": {"field": "Sex", "type": "nominal", "scale": {"domain": ["Female", "Male"], "range": ["#F8766D", "#00BFC4"]}, "legend": {"orient": "none", "legendX": 954, "legendY": 258}},
      "shape": {"field": "Sex", "type": "nominal", "scale": {"domain": ["Female", "Male"], "range": ["circle", "triangle-up"]}, "legend": {"orient": "none", "legendX": 954, "legendY": 258}},
      "size": {"field": "Sex", "type": "ordinal", "scale": {"domain": ["Female", "Male"], "range": [140, 200]}, "legend": null}
     }},
    {"mark": {"type": "point", "opacity": 0},
     "encoding": {"x": {"field": "Age", "type": "quantitative", "axis": {"orient": "top", "title": "Mustelus lenticulatus", "ticks": false, "labels": false, "domainColor": "#CCCCCC", "domainWidth": 41, "offset": 20.5, "titleFontSize": 27.5, "titleY": 0, "titleBaseline": "middle"}}}}
   ],
   "resolve": {"axis": {"x": "independent"}}
  }
 ],
 "columns": 2,
 "spacing": {"row": 96, "column": 76},
 "bounds": "flush",
 "resolve": {"scale": {"x": "independent", "y": "independent"}}
}
